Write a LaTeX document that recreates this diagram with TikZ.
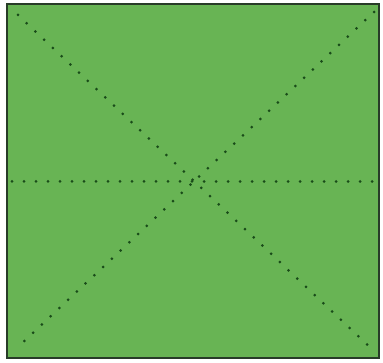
\documentclass[tikz,border=0pt]{standalone}
\definecolor{paper}{RGB}{104,180,84}
\definecolor{edge}{RGB}{40,60,40}
\definecolor{dotc}{RGB}{25,75,25}
\tikzset{
  foldline/.style={dotc, line width=3pt, line cap=round, dash pattern=on 0pt off 12pt},
}
\begin{document}
\begin{tikzpicture}[x=1pt,y=-1pt]
\useasboundingbox[fill=white] (0,0) rectangle (383,363);
\coordinate (tl) at (7,4);
\coordinate (tr) at (379,4);
\coordinate (bl) at (7,358);
\coordinate (br) at (379,358);
\coordinate (ml) at (7,181.5);
\coordinate (mr) at (379,181.5);
\filldraw[fill=paper, draw=edge, line width=1.3pt] (tl) rectangle (br);
\draw[foldline] (18,15) -- (373,350);
\draw[foldline] (374,12) -- (18,347);
\draw[foldline] (12,181.5) -- (374,181.5);
\end{tikzpicture}
\end{document}
